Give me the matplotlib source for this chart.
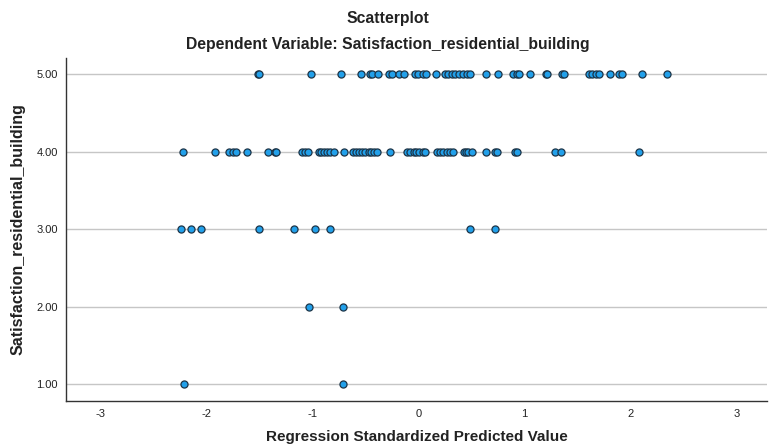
import matplotlib
matplotlib.use("Agg")
import matplotlib.pyplot as plt
import numpy as np

plt.rcParams['font.family'] = ['Liberation Sans', 'DejaVu Sans']

# Regression standardized predicted values, grouped by observed satisfaction score
pred_sat5 = [-1.51, -1.50, -1.01, -0.73, -0.54, -0.46, -0.44, -0.38, -0.28, -0.25,
             -0.18, -0.14, -0.03, 0.00, 0.04, 0.07, 0.17, 0.25, 0.28, 0.32,
             0.35, 0.38, 0.42, 0.46, 0.49, 0.64, 0.75, 0.89, 0.93, 0.95,
             1.05, 1.20, 1.21, 1.36, 1.37, 1.61, 1.64, 1.68, 1.70, 1.81,
             1.89, 1.92, 2.11, 2.35]
pred_sat4 = [-2.22, -1.92, -1.79, -1.75, -1.72, -1.62, -1.42, -1.35, -1.34, -1.10,
             -1.07, -1.04, -0.94, -0.92, -0.89, -0.86, -0.83, -0.80, -0.70, -0.62,
             -0.59, -0.56, -0.53, -0.50, -0.47, -0.45, -0.42, -0.39, -0.27, -0.11,
             -0.08, -0.04, -0.02, 0.01, 0.04, 0.06, 0.18, 0.20, 0.23, 0.27,
             0.30, 0.33, 0.43, 0.45, 0.47, 0.51, 0.64, 0.72, 0.74, 0.91,
             0.93, 1.29, 1.35, 2.08]
pred_sat3 = [-2.24, -2.15, -2.05, -1.50, -1.17, -0.98, -0.83, 0.49, 0.72]
pred_sat2 = [-1.03, -0.71]
pred_sat1 = [-2.21, -0.71]

groups = [(5.0, pred_sat5), (4.0, pred_sat4), (3.0, pred_sat3),
          (2.0, pred_sat2), (1.0, pred_sat1)]

x_ticks = [-3, -2, -1, 0, 1, 2, 3]
y_ticks = [1.0, 2.0, 3.0, 4.0, 5.0]

W, H = 776, 448
fig = plt.figure(figsize=(W / 100, H / 100), dpi=100)
left, right, top, bottom = 66, 767, 58, 401
ax = fig.add_axes([left / W, 1 - bottom / H, (right - left) / W, (bottom - top) / H])

xs = np.concatenate([np.asarray(v, float) for _, v in groups])
ys = np.concatenate([np.full(len(v), y) for y, v in groups])
ax.scatter(xs, ys, s=26, facecolor='#22a0ea', edgecolor='#1c3447',
           linewidths=0.9, zorder=3)

ax.set_xlim(-3.325, 3.29)
ax.set_ylim(0.78, 5.21)
ax.set_xticks(x_ticks)
ax.set_xticklabels([str(t) for t in x_ticks])
ax.set_yticks(y_ticks)
ax.set_yticklabels([f"{t:.2f}" for t in y_ticks])
ax.tick_params(axis='both', length=0, labelsize=8, colors='#222222', pad=6)
ax.tick_params(axis='x', pad=6)

ax.grid(axis='y', color='#c6c6c6', linewidth=1.0, zorder=1)
ax.set_axisbelow(True)
for s in ('top', 'right'):
    ax.spines[s].set_visible(False)
for s in ('left', 'bottom'):
    ax.spines[s].set_color('#333333')
    ax.spines[s].set_linewidth(1.0)

# Axis titles placed in figure pixels
ax_cx = (left + right) / 2 / W
ax_cy = 1 - (top + bottom) / 2 / H
fig.text(ax_cx, 1 - 437 / H, 'Regression Standardized Predicted Value',
         ha='center', va='center', fontsize=11, fontweight='bold', color='#222222')
fig.text(18 / W, ax_cy, 'Satisfaction_residential_building', rotation=90,
         ha='center', va='center', fontsize=11.5, fontweight='bold', color='#222222')

fig.text(0.5, 1 - 18 / H, 'Scatterplot', ha='center', va='center',
         fontsize=11.3, fontweight='bold', color='#222222')
fig.text(0.5, 1 - 45 / H, 'Dependent Variable: Satisfaction_residential_building',
         ha='center', va='center', fontsize=11.3, fontweight='bold', color='#222222')

fig.savefig('out.png', dpi=100, facecolor='white')
